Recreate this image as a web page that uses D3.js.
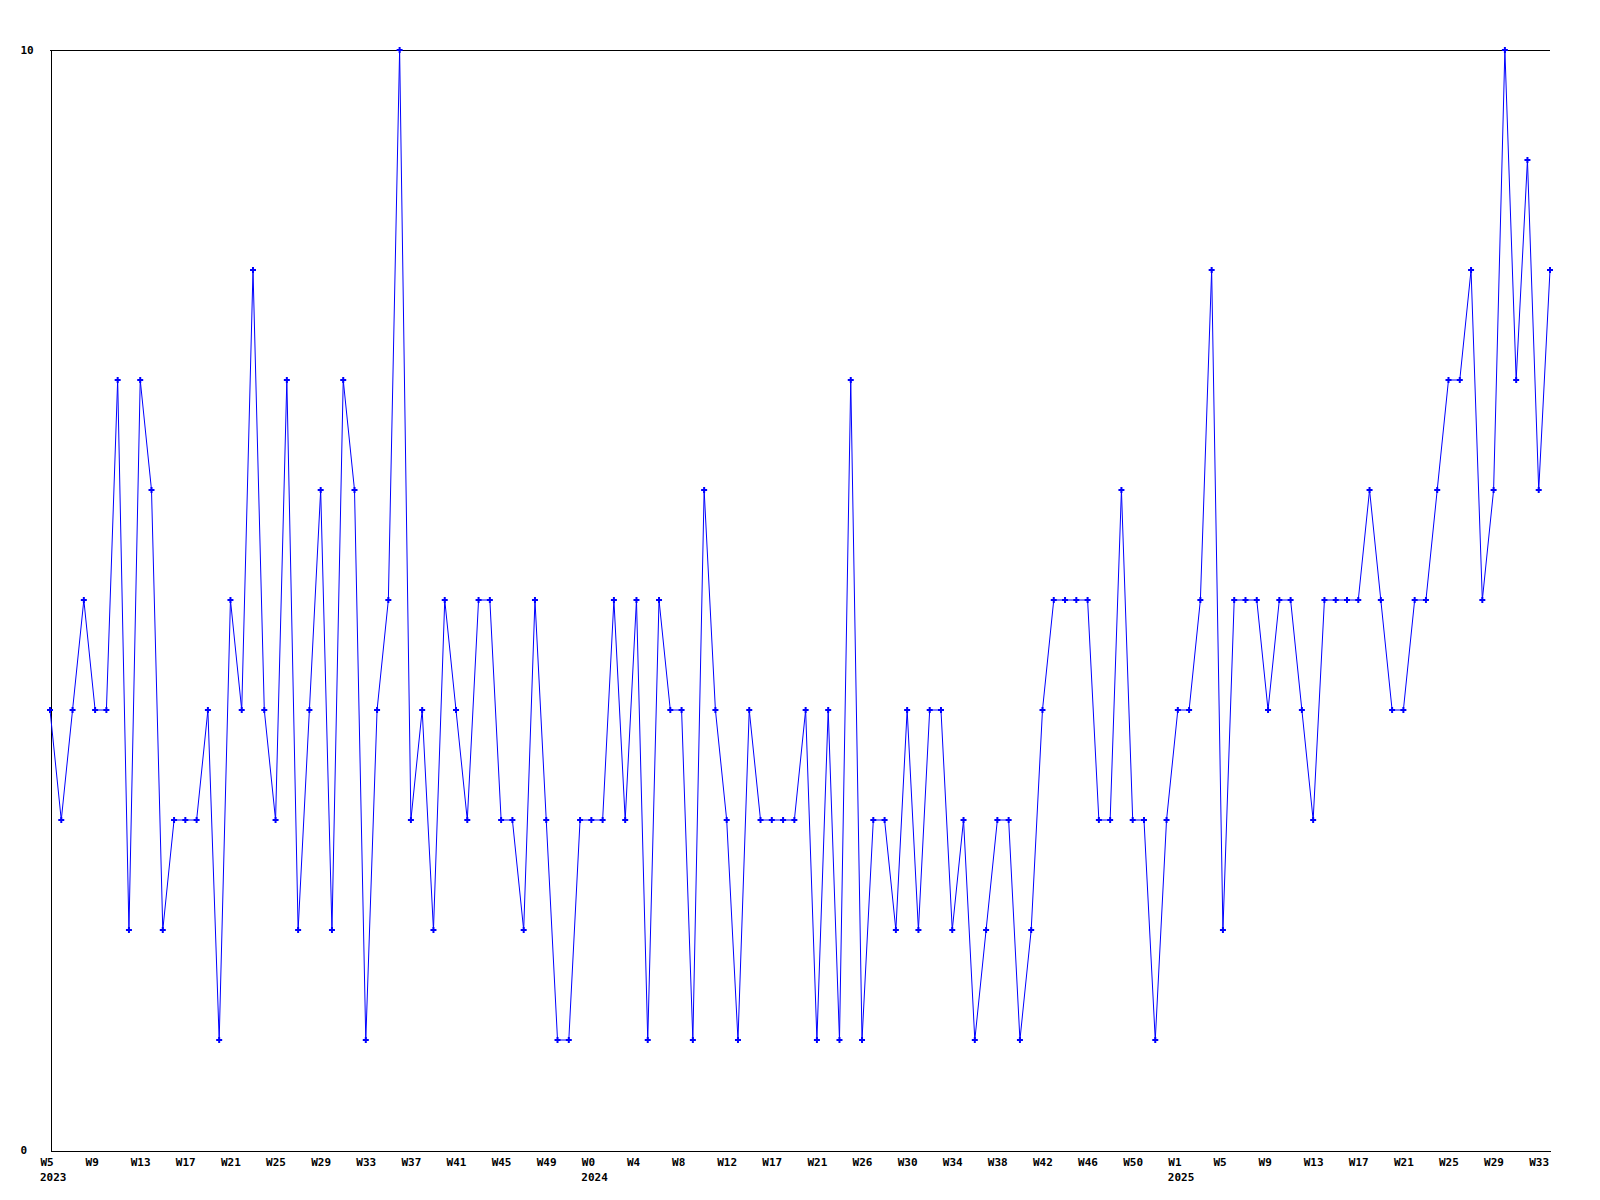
<!DOCTYPE html>
<html>
<head>
<meta charset="utf-8">
<script src="https://cdn.jsdelivr.net/npm/d3@7"></script>
<style>
  html, body { margin: 0; padding: 0; background: #ffffff; }
  svg { display: block; }
  text { font-family: "DejaVu Sans Mono", "Liberation Mono", monospace; font-weight: bold; font-size: 11px; fill: #000; }
</style>
</head>
<body>
<svg id="chart" width="1600" height="1200"></svg>
<script>
// Weekly values, 2023 W5 .. 2025 W34
const values = [
  4,3,4,5,4,4,7,2,7,6,
  2,3,3,3,4,1,5,4,8,4,
  3,7,2,4,6,2,7,6,1,4,
  5,10,3,4,2,5,4,3,5,5,
  3,3,2,5,3,1,1,3,3,3,
  5,3,5,1,5,4,4,1,6,4,
  3,1,4,3,3,3,3,4,1,4,
  1,7,1,3,3,2,4,2,4,4,
  2,3,1,2,3,3,1,2,4,5,
  5,5,5,3,3,6,3,3,1,3,
  4,4,5,8,2,5,5,5,4,5,
  5,4,3,5,5,5,5,6,5,4,
  4,5,5,6,7,7,8,5,6,10,
  7,9,6,8
];
// Tick labels, one every 4 weeks
const weekLabels = ["W5","W9","W13","W17","W21","W25","W29","W33","W37","W41","W45","W49",
  "W0","W4","W8","W12","W17","W21","W26","W30","W34","W38","W42","W46","W50",
  "W1","W5","W9","W13","W17","W21","W25","W29","W33"];
const yearLabels = [
  {tick: 0, label: "2023"},
  {tick: 12, label: "2024"},
  {tick: 25, label: "2025"}
];
const yTickValues = [0, 10];

const svg = d3.select("#chart");
const mLeft = 50, mRight = 1550, mTop = 50, mBottom = 1150;

const x = d3.scaleLinear().domain([0, values.length - 1]).range([mLeft, mRight]);
const y = d3.scaleLinear().domain([0, 10]).range([mBottom, mTop]);

const tickIdx = weekLabels.map((d, i) => i * 4);

// top line
svg.append("line").attr("x1", mLeft).attr("x2", mRight).attr("y1", y(10) + 0.5).attr("y2", y(10) + 0.5)
  .attr("stroke", "#000").attr("stroke-width", 1).attr("shape-rendering", "crispEdges");

const xAxis = d3.axisBottom(x).tickValues(tickIdx).tickFormat((d, i) => weekLabels[i])
  .tickSize(0).tickPadding(0).tickSizeOuter(0);
const gx = svg.append("g").attr("transform", `translate(0,${mBottom + 0.5})`).call(xAxis);
gx.select(".domain").attr("stroke", "#000").attr("shape-rendering", "crispEdges");
gx.selectAll(".tick text").attr("text-anchor", "start").attr("x", -10).attr("y", 15).attr("dy", null)
  .style("font-family", "'DejaVu Sans Mono', monospace").style("font-weight", "bold").style("font-size", "11px");

svg.append("g").selectAll("text").data(yearLabels).join("text")
  .attr("x", d => x(tickIdx[d.tick]) - 10).attr("y", 1181).text(d => d.label);

const yAxis = d3.axisLeft(y).tickValues(yTickValues).tickSize(0).tickPadding(0).tickFormat(d3.format("d"));
const gy = svg.append("g").attr("transform", `translate(${mLeft + 0.5},0)`).call(yAxis);
gy.select(".domain").attr("stroke", "#000").attr("shape-rendering", "crispEdges");
gy.selectAll(".tick text").attr("text-anchor", "start").attr("x", -30).attr("dy", "0.3em")
  .style("font-family", "'DejaVu Sans Mono', monospace").style("font-weight", "bold").style("font-size", "11px");

// line
const line = d3.line().x((d, i) => x(i)).y(d => y(d));
svg.append("path").datum(values).attr("d", line)
  .attr("fill", "none").attr("stroke", "#0000ff").attr("stroke-width", 1);

// markers
svg.append("g").selectAll("path").data(values).join("path")
  .attr("transform", (d, i) => `translate(${x(i)},${y(d)})`)
  .attr("d", d3.symbol(d3.symbolCross, 20))
  .attr("fill", "#0000ff");
</script>
</body>
</html>
